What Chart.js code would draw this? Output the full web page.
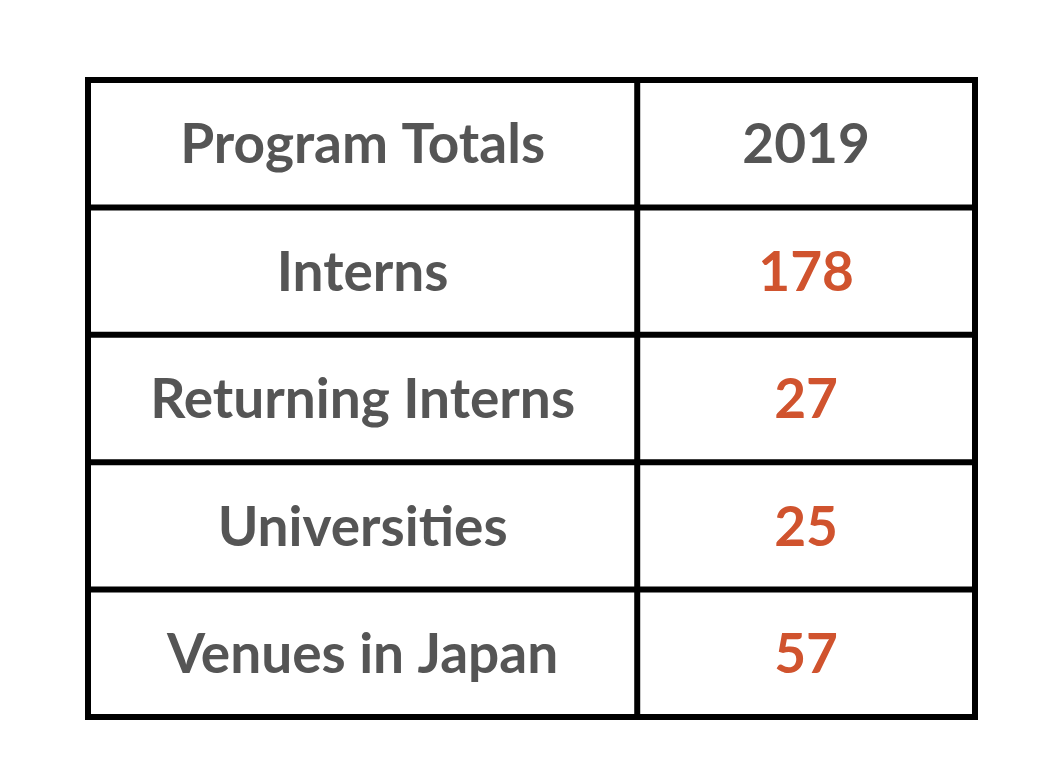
<!DOCTYPE html>
<html>
<head>
<meta charset="utf-8">
<script src="https://cdn.jsdelivr.net/npm/chart.js@4"></script>
<style>
  html, body { margin: 0; background: #fff; }
  #wrap { width: 1046px; height: 778px; }
</style>
</head>
<body>
<div id="wrap"><canvas id="c" width="1046" height="778"></canvas></div>
<script>
// table contents
const headers = ['Program Totals', '2019'];
const categories = ['Interns', 'Returning Interns', 'Universities', 'Venues in Japan'];
const values = [178, 27, 25, 57];

// column edges in x-scale units (left column wider than right)
const colEdges = [0, 1, 1.615];

// draws the table cells from the x/y scales
const tablePlugin = {
  id: 'table',
  afterDraw(chart) {
    const { ctx, scales: { x, y } } = chart;
    const rows = categories.length + 1;
    const xMax = colEdges[colEdges.length - 1];
    ctx.save();
    ctx.strokeStyle = '#000';
    ctx.lineWidth = 6;
    for (let r = 0; r <= rows; r++) {
      ctx.beginPath();
      ctx.moveTo(x.getPixelForValue(0) - 3, y.getPixelForValue(r));
      ctx.lineTo(x.getPixelForValue(xMax) + 3, y.getPixelForValue(r));
      ctx.stroke();
    }
    colEdges.forEach(c => {
      ctx.beginPath();
      ctx.moveTo(x.getPixelForValue(c), y.getPixelForValue(0));
      ctx.lineTo(x.getPixelForValue(c), y.getPixelForValue(rows));
      ctx.stroke();
    });
    ctx.font = 'bold 55px Lato';
    ctx.textAlign = 'center';
    ctx.textBaseline = 'middle';
    const cx0 = x.getPixelForValue((colEdges[0] + colEdges[1]) / 2);
    const cx1 = x.getPixelForValue((colEdges[1] + colEdges[2]) / 2);
    ctx.fillStyle = '#555555';
    ctx.fillText(headers[0], cx0, y.getPixelForValue(0.5) + 2);
    ctx.fillText(headers[1], cx1, y.getPixelForValue(0.5) + 2);
    categories.forEach((cat, i) => {
      const cy = y.getPixelForValue(i + 1.5) + 2;
      ctx.fillStyle = '#555555';
      ctx.fillText(cat, cx0, cy);
      ctx.fillStyle = '#d0532e';
      ctx.fillText(String(values[i]), cx1, cy);
    });
    ctx.restore();
  }
};

new Chart(document.getElementById('c'), {
  type: 'scatter',
  data: { datasets: [{ data: [], pointRadius: 0 }] },
  options: {
    responsive: false,
    animation: false,
    layout: { padding: { left: 88, right: 71, top: 80, bottom: 61 } },
    plugins: { legend: { display: false }, tooltip: { enabled: false } },
    scales: {
      x: { type: 'linear', display: false, min: 0, max: colEdges[colEdges.length - 1] },
      y: { type: 'linear', display: false, min: 0, max: 5, reverse: true }
    }
  },
  plugins: [tablePlugin]
});
</script>
</body>
</html>
